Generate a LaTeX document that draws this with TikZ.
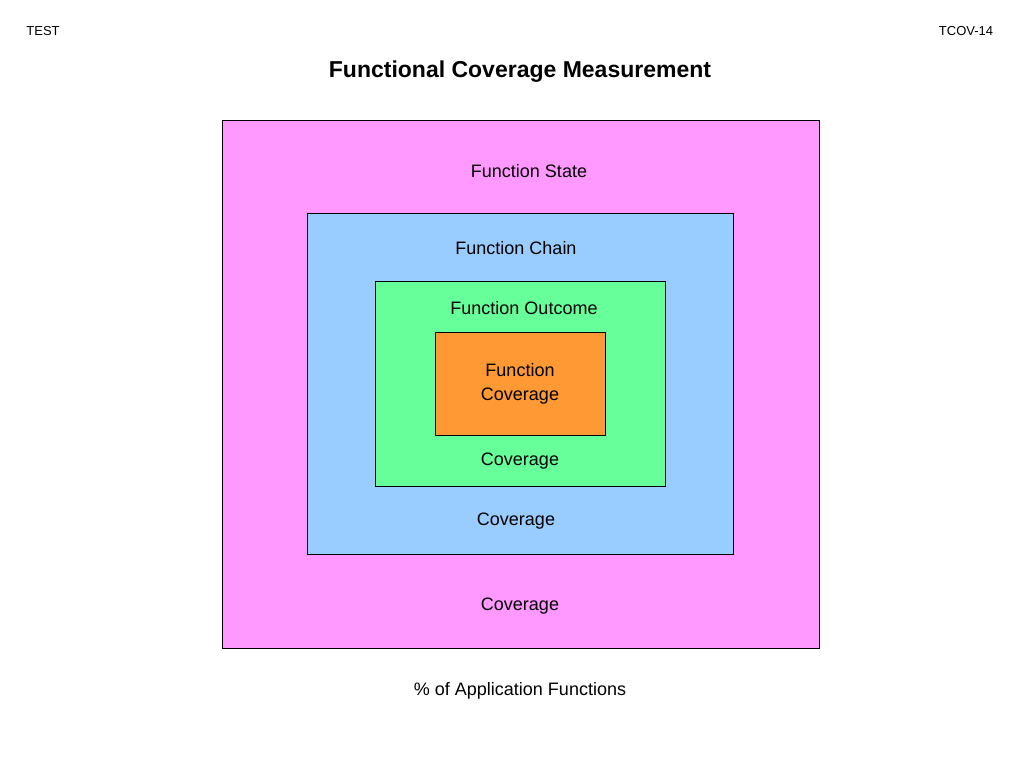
\documentclass[tikz,border=0pt]{standalone}
\usepackage{fontspec}
\setmainfont{Liberation Sans}
\begin{document}
\begin{tikzpicture}[x=1pt,y=-1pt,
  box/.style={draw=black,line width=0.8pt},
  lbl/.style={font=\fontsize{18}{21}\selectfont,align=center,inner sep=0pt},
  small/.style={font=\fontsize{13}{15}\selectfont,inner sep=0pt}]
\useasboundingbox (0,0) rectangle (1024,768);
\definecolor{cpink}{HTML}{FF99FF}
\definecolor{cblue}{HTML}{99CCFF}
\definecolor{cgreen}{HTML}{66FF99}
\definecolor{corange}{HTML}{FF9933}
\draw[box,fill=cpink] (222,120) rectangle (819,648);
\draw[box,fill=cblue] (307,213) rectangle (733,554);
\draw[box,fill=cgreen] (375,281) rectangle (665,486);
\draw[box,fill=corange] (435,332) rectangle (605,435);
\node[small] (test) at (43,31) {TEST};
\node[small] (tcov) at (966,31) {TCOV-14};
\node[lbl,font=\fontsize{23}{27}\selectfont\bfseries] (title) at (520,72) {Functional Coverage Measurement};
\node[lbl] (fs) at (529,171) {Function State};
\node[lbl] (fc) at (516,248) {Function Chain};
\node[lbl] (fo) at (524,308) {Function Outcome};
\node[lbl,font=\fontsize{18}{24}\selectfont] (fcov) at (520,384) {Function\\Coverage};
\node[lbl] (c1) at (520,461) {Coverage};
\node[lbl] (c2) at (516,521) {Coverage};
\node[lbl] (c3) at (520,606) {Coverage};
\node[lbl] (app) at (520,691) {\% of Application Functions};
\end{tikzpicture}
\end{document}
